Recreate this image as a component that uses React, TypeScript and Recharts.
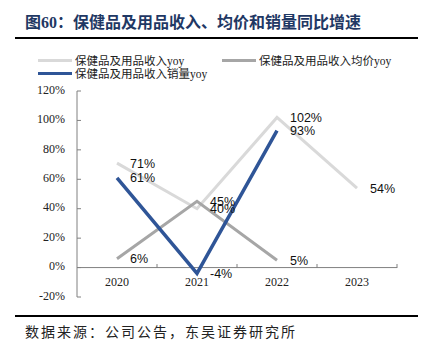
import React from "react"
import { LineChart, Line, XAxis, YAxis, ReferenceLine, LabelList } from "recharts"

const years = ["2020", "2021", "2022", "2023"]
const revenueYoy = [71, 40, 102, 54]
const priceYoy = [6, 45, 5, null]
const volumeYoy = [61, -4, 93, null]
const yTicks = [-20, 0, 20, 40, 60, 80, 100, 120]

const data = years.map((y, i) => ({
	year: y,
	revenue: revenueYoy[i],
	price: priceYoy[i],
	volume: volumeYoy[i],
}))

const SERIF = '"Liberation Serif", "Noto Sans CJK SC", serif'
const LABEL_FONT = '"Liberation Sans", Arial, sans-serif'

const XTick = (props: any) => {
	const { x, y, payload } = props
	const zeroY = y - 29
	return (
		<g>
			<line x1={x + 40} x2={x + 40} y1={zeroY - 4} y2={zeroY} stroke="#808080" />
			<text x={x} y={zeroY + 15} textAnchor="middle" dominantBaseline="middle" fontFamily={SERIF} fontSize={12} fill="#222">{payload.value}</text>
		</g>
	)
}

const YTick = (props: any) => {
	const { x, y, payload } = props
	return (
		<g>
			<line x1={x} x2={x + 4} y1={y} y2={y} stroke="#808080" />
			<text x={x - 12} y={y} textAnchor="end" dominantBaseline="middle" fontFamily={SERIF} fontSize={12} fill="#222">{payload.value}%</text>
		</g>
	)
}

const pct = (v: any) => (v == null ? "" : `${v}%`)

const legendItems = [
	{ name: "保健品及用品收入yoy", color: "#d9d9d9", left: 38, top: 60 },
	{ name: "保健品及用品收入均价yoy", color: "#a6a6a6", left: 222, top: 60 },
	{ name: "保健品及用品收入销量yoy", color: "#2f5597", left: 38, top: 73 },
]

export default function App() {
	return (
		<div style={{ position: "absolute", left: 0, top: 0, width: 430, height: 355, background: "#fff", overflow: "hidden" }}>
			{/* title */}
			<div style={{ position: "absolute", left: 25, top: 13, fontFamily: SERIF, fontWeight: 700, fontSize: 16, color: "#1f3864", whiteSpace: "nowrap", lineHeight: "20px" }}>
				图60：保健品及用品收入、均价和销量同比增速
			</div>
			<div style={{ position: "absolute", left: 15, top: 37, width: 403, height: 2, background: "#000" }} />

			{/* legend */}
			{legendItems.map((it) => (
				<div key={it.name} style={{ position: "absolute", left: it.left, top: it.top - 8, height: 16, display: "flex", alignItems: "center", whiteSpace: "nowrap" }}>
					<div style={{ width: 34, height: 3, background: it.color, marginRight: 3 }} />
					<span style={{ fontFamily: SERIF, fontSize: 11.5, color: "#222" }}>{it.name}</span>
				</div>
			))}

			<div style={{ position: "absolute", left: 0, top: 0 }}>
				<LineChart width={430} height={355} data={data} margin={{ top: 91, right: 33, bottom: 28, left: 17 }}>
					<XAxis dataKey="year" scale="band" height={30} axisLine={false} tickLine={false} tickSize={0} tickMargin={0} tick={<XTick />} interval={0} />
					<YAxis width={60} domain={[-20, 120]} ticks={yTicks} interval={0} axisLine={{ stroke: "#808080" }} tickLine={false} tickSize={0} tickMargin={0} tick={<YTick />} />
					<ReferenceLine y={0} stroke="#808080" />
					<Line type="linear" dataKey="revenue" stroke="#d9d9d9" strokeWidth={3} dot={false} isAnimationActive={false}>
						<LabelList dataKey="revenue" position="right" offset={13} formatter={pct} style={{ fontFamily: LABEL_FONT, fontSize: 12.5, fill: "#111" }} />
					</Line>
					<Line type="linear" dataKey="price" stroke="#a6a6a6" strokeWidth={3} dot={false} isAnimationActive={false}>
						<LabelList dataKey="price" position="right" offset={13} formatter={pct} style={{ fontFamily: LABEL_FONT, fontSize: 12.5, fill: "#111" }} />
					</Line>
					<Line type="linear" dataKey="volume" stroke="#2f5597" strokeWidth={3.5} dot={false} isAnimationActive={false}>
						<LabelList dataKey="volume" position="right" offset={13} formatter={pct} style={{ fontFamily: LABEL_FONT, fontSize: 12.5, fill: "#111" }} />
					</Line>
				</LineChart>
			</div>

			{/* source */}
			<div style={{ position: "absolute", left: 15, top: 315, width: 403, height: 2, background: "#000" }} />
			<div style={{ position: "absolute", left: 25, top: 324, fontFamily: SERIF, fontSize: 14, letterSpacing: 2, color: "#222", whiteSpace: "nowrap", lineHeight: "18px" }}>
				数据来源：公司公告，东吴证券研究所
			</div>
		</div>
	)
}
